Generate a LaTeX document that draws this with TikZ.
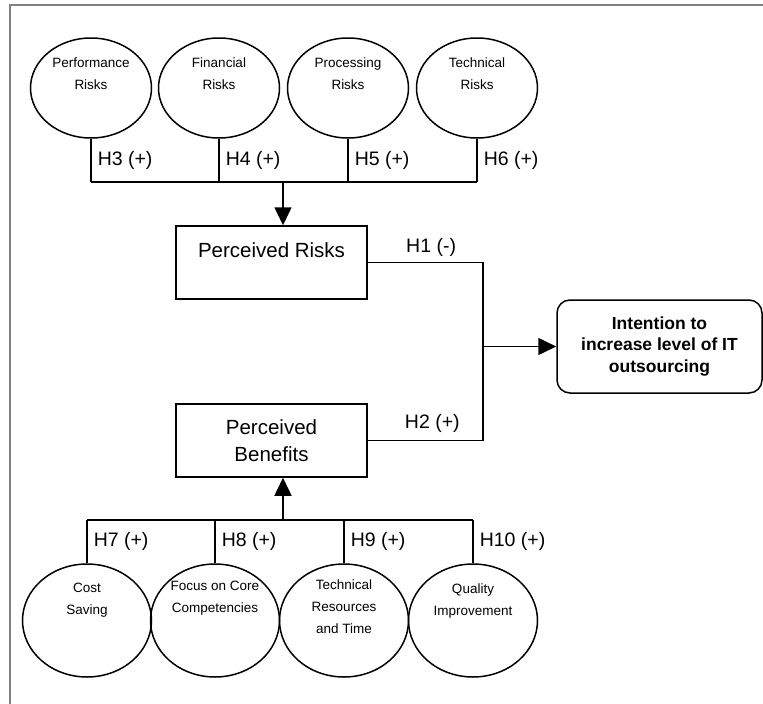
\documentclass[tikz,border=0pt]{standalone}
\usepackage{fontspec}
\setmainfont{Liberation Sans}
\usetikzlibrary{shapes.geometric,arrows.meta,positioning}

\newcommand{\liftup}[2]{\raisebox{#1}[0pt][0pt]{\begin{tabular}{@{}c@{}}#2\end{tabular}}}

\begin{document}
\begin{tikzpicture}[x=1pt,y=-1pt,
	oval/.style={ellipse, draw, line width=1.5pt, inner sep=0pt, font=\fontsize{13.5}{22}\selectfont},
	riskoval/.style={oval, minimum width=121pt, minimum height=100pt},
	benoval/.style={oval, minimum width=129pt, minimum height=113pt},
	construct/.style={draw, line width=1.5pt, minimum width=191pt, minimum height=73pt, inner sep=0pt, font=\fontsize{20.5}{27}\selectfont},
	outcome/.style={draw, line width=1.5pt, rounded corners=13pt, minimum width=205pt, minimum height=93pt, inner sep=0pt, align=center, font=\bfseries\fontsize{17.5}{21.5}\selectfont},
	hyp/.style={font=\fontsize{19.5}{23}\selectfont, inner sep=0pt},
	link/.style={line width=1.5pt},
	arr/.style={link, -{Triangle[length=18pt,width=17pt]}}
	]
	\useasboundingbox (0,0) rectangle (763,704);
	\draw[gray, line width=1.2pt] (763,5) -- (10,5) -- (10,704);

	% constructs
	\node[construct] (risks) at (271.5,262.5) {\liftup{5.5pt}{Perceived Risks}};
	\node[construct, align=center] (benefits) at (271.5,440.5) {Perceived\\Benefits};
	\node[outcome] (intent) at (659.5,346.5) {Intention to\\increase level of IT\\outsourcing};

	% risk factors
	\coordinate (riskbus) at (283,182);
	\foreach \name/\x/\txt [count=\i from 3] in {perf/91/{Performance\\Risks}, fin/219/{Financial\\Risks}, proc/348/{Processing\\Risks}, tech/477/{Technical\\Risks}}{
		\node[riskoval] (\name) at (\x,88) {\liftup{10.5pt}{\txt}};
		\draw[link] (\name.south) -- node[hyp, right=6pt] {H\i\ (+)} (\name.south |- riskbus);
	}
	\draw[link] (perf.south |- riskbus) -- (tech.south |- riskbus);
	\draw[arr] (riskbus) -- (riskbus |- risks.north);

	% benefit factors
	\coordinate (benbus) at (283,520);
	\foreach \name/\x/\lift/\txt [count=\i from 7] in {cost/87/17.5pt/{Cost\\Saving}, core/215/19.5pt/{Focus on Core\\Competencies}, res/344/10pt/{Technical\\Resources\\and Time}, qual/473/17pt/{Quality\\Improvement}}{
		\node[benoval] (\name) at (\x,620.5) {\liftup{\lift}{\txt}};
		\draw[link] (\name.north) -- node[hyp, right=6pt] {H\i\ (+)} (\name.north |- benbus);
	}
	\draw[link] (cost.north |- benbus) -- (qual.north |- benbus);
	\draw[arr] (benbus) -- (benbus |- benefits.south);

	% H1, H2
	\coordinate (join) at (483,346.5);
	\draw[link] (risks.east) -- node[hyp, above=5pt, pos=0.55] {H1 (-)} (risks.east -| join)
		-- (benefits.east -| join) -- node[hyp, above=7pt, pos=0.44] {H2 (+)} (benefits.east);
	\draw[arr] (join) -- (intent);
\end{tikzpicture}
\end{document}
